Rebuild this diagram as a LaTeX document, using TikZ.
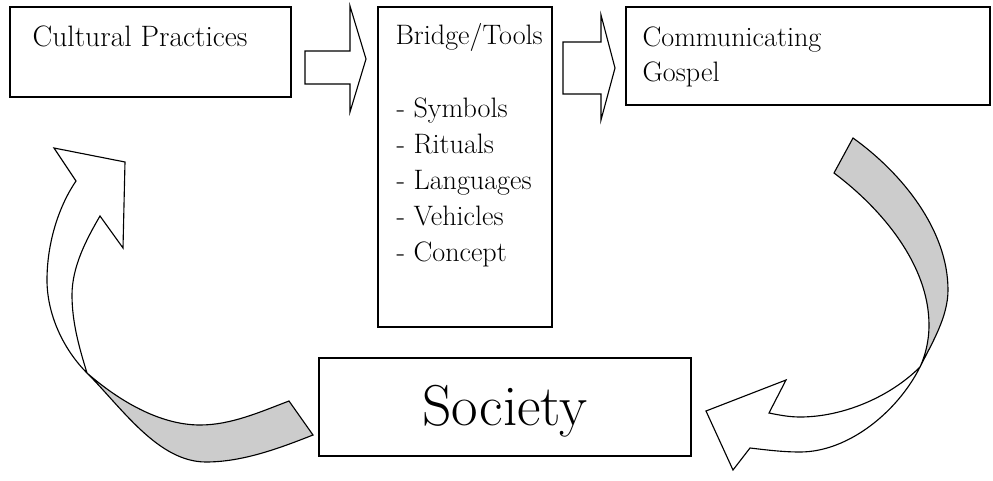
\documentclass[tikz,border=0pt]{standalone}
\usetikzlibrary{fit}
\definecolor{backside}{RGB}{204,204,204}

\begin{document}
\begin{tikzpicture}[x=0.25mm, y=-0.25mm,
    box/.style={draw, line width=1pt, inner sep=0pt},
    lbl/.style={font=\fontsize{20}{25}\selectfont,
                inner sep=0pt, anchor=base west},
    blockarrow/.style={draw, line width=0.8pt, line join=miter},
    curl/.style={draw, line width=0.8pt, line join=miter},
  ]
  \useasboundingbox (0,0) rectangle (993,481);

  % the four boxes
  \node[box, fit={(10,7) (291,97)}] (cult) {};
  \node[box, fit={(378,7) (552,327)}] (tools) {};
  \node[box, fit={(626,7) (990,105)}] (gospel) {};
  \node[box, fit={(319,358) (691,456)}] (soc) {};

  % box texts
  \node[lbl, font=\fontsize{21}{25}\selectfont] (cultlbl)
      at ([shift={(23,40)}]cult.north west) {Cultural Practices};
  \node[lbl] (toolslbl) at ([shift={(18,38)}]tools.north west)
      {Bridge/Tools};
  \foreach \t [count=\i] in {Symbols, Rituals, Languages, Vehicles, Concept}
    \node[lbl] (tool\i) at ([shift={(19,75+36*\i)}]tools.north west)
        {- \t};
  \node[lbl] (gospel1) at ([shift={(17,40)}]gospel.north west)
      {Communicating};
  \node[lbl] (gospel2) at ([shift={(17,75)}]gospel.north west)
      {Gospel};
  \node[font=\fontsize{41}{44}\selectfont, inner sep=0pt] (soclbl)
      at ([yshift=-1mm]soc.center) {Society};

  % block arrows between the top boxes
  \draw[blockarrow] (305,51) -- (350,51) -- (350,6) -- (366,59)
      -- (350,112) -- (350,84) -- (305,84) -- cycle;
  \draw[blockarrow] (563,42) -- (601,42) -- (601,15) -- (615,68)
      -- (601,120) -- (601,94) -- (563,94) -- cycle;

  % curved arrow, society back to practices
  \path[save path=\leftcurl]
      (76,181) .. controls (57,209) and (47,246) .. (47,280)
      .. controls (47,314) and (63,349) .. (87,373)
      .. controls (122,408) and (158,462) .. (206,462)
      .. controls (243,462) and (280,448) .. (313,435)
      -- (289,401)
      .. controls (260,412) and (231,425) .. (200,425)
      .. controls (159,425) and (118,400) .. (87,373)
      .. controls (79,347) and (72,322) .. (72,295)
      .. controls (72,267) and (86,240) .. (100,216)
      -- (123,248) -- (125,162) -- (54,148) -- cycle;
  \begin{scope}
    \clip (-20,480) -- (240,220) -- (420,220) -- (420,500) -- cycle;
    \path[use path=\leftcurl, fill=backside];
  \end{scope}
  \path[use path=\leftcurl, curl];

  % curved arrow, gospel down to society
  \path[save path=\rightcurl]
      (853,138) .. controls (902,173) and (948,230) .. (948,290)
      .. controls (948,317) and (932,343) .. (920,367)
      .. controls (898,411) and (849,452) .. (800,452)
      .. controls (783,452) and (767,450) .. (750,448)
      -- (733,470) -- (706,411) -- (786,380) -- (769,413)
      .. controls (779,415) and (789,417) .. (800,417)
      .. controls (843,417) and (890,397) .. (920,367)
      .. controls (925,356) and (929,342) .. (929,325)
      .. controls (929,265) and (882,209) .. (834,173)
      -- cycle;
  \begin{scope}
    \clip (700,257) -- (1140,477) -- (1140,0) -- (700,0) -- cycle;
    \path[use path=\rightcurl, fill=backside];
  \end{scope}
  \path[use path=\rightcurl, curl];
\end{tikzpicture}
\end{document}
